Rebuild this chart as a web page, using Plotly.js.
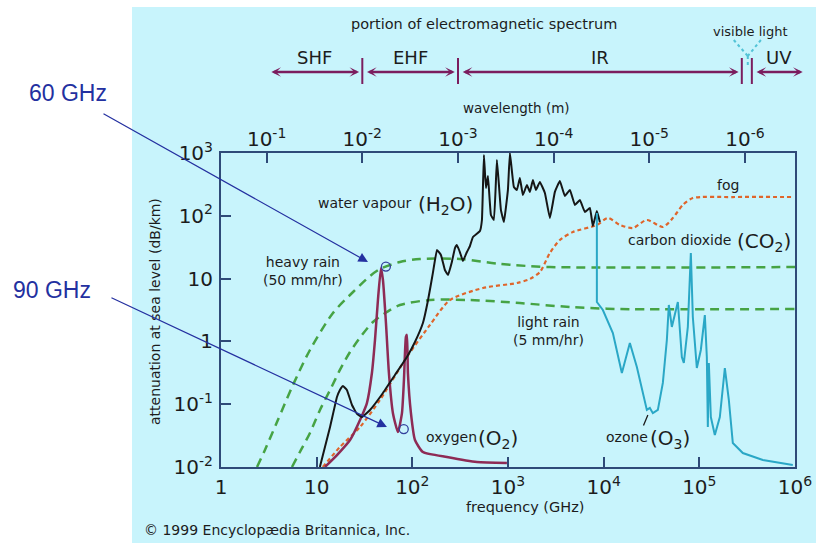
<!DOCTYPE html>
<html>
<head>
<meta charset="utf-8">
<script src="https://cdn.plot.ly/plotly-3.0.1.min.js"></script>
<style>
html,body{margin:0;padding:0;background:#ffffff;}
#chart{width:816px;height:543px;}
</style>
</head>
<body>
<div id="chart"></div>
<script>
// ---------------- data ----------------
// frequency in GHz, attenuation in dB/km
const waterFreq = [10.8,13.8,16.3,17.5,18.8,20.7,23.4,26.4,29.8,36.1,49.3,65.8,87.8,106.5,129,146,164,181,199,219,236,259,279,292,314,338,372,400,430,509,534,560,588,617,663,712,766,843,906,998,1047,1152,1239,1331,1431,1576,1694,1820,1956,2154,2430,2741,3092,3486,3932,4436,5002,5641,6364,7176,7712,8491,9126];
const waterAtt  = [0.010,0.0434,0.130,0.168,0.195,0.168,0.097,0.070,0.0625,0.081,0.151,0.292,0.565,0.978,1.96,4.56,12.3,28.5,23.8,13.7,11.4,18.4,30.7,34.3,26.5,19.1,26.5,33.0,45.9,57.3,85.8,929,277,431,103,85.8,774,124,79.6,258,1000,288,258,400,214,309,240,371,258,345,231,92.3,240,358,207,258,149,178,115,133,68.8,119,79.6];

const oxyFreq = [12.2,16.3,22.3,30.5,33.5,37.8,40.7,43.7,47.0,49.3,53.0,56.9,62.7,70.7,77.9,81.7,85.7,87.8,89.9,96.7,106.5,129,230,473,974];
const oxyAtt  = [0.010,0.0155,0.0269,0.072,0.104,0.314,1.05,4.56,14.8,9.50,1.96,0.314,0.072,0.0361,0.072,0.243,1.18,1.27,0.314,0.072,0.0269,0.0173,0.0144,0.0120,0.0116];

const fogFreq = [11.6,17.5,28.4,45.9,87.8,153,247,547,1239,1694,2154,2741,3486,4767,8491,11066,14766,20194,28275,41553,52850,67240,85517,223900,950000];
const fogAtt  = [0.010,0.0208,0.0434,0.117,0.565,1.83,4.56,7.08,8.51,9.86,12.7,25.6,41.2,55.2,71.4,92.3,71.4,64.0,85.8,66.4,92.3,149,192,199,199];

const heavyRainFreq = [2.38,2.88,3.85,5.65,8.51,14.8,24.0,36.1,45.9,74.2,120,314,823,2741,1000000];
const heavyRainAtt  = [0.010,0.0187,0.052,0.202,0.730,2.83,6.12,11.0,14.2,18.4,20.5,20.5,17.1,15.3,15.3];

const lightRainFreq = [5.52,6.86,8.51,10.83,13.8,17.5,22.3,29.8,38.8,54.3,74.2,153,400,1331,4436,14766,1000000];
const lightRainAtt  = [0.010,0.0187,0.0348,0.081,0.168,0.351,0.678,1.27,2.04,2.94,3.80,4.56,4.56,4.08,3.53,3.28,3.28];

const ozoneCo2Freq = [8491,8491,9809,12479,15496,18785,22233,25679,28275,30392,32673,36845,41553,45749,48003,51592,59619,65634,68869,75838,81519,85517,94170,103680,114160,119780,122700,125700,131900,145200,163800,184800,203400,223900,284800,460900,948400];
const ozoneCo2Att  = [111,4.24,3.16,1.36,0.314,0.944,0.391,0.151,0.081,0.087,0.072,0.081,0.218,1.05,3.80,1.70,4.24,0.565,0.453,1.70,25.6,2.45,0.377,0.730,2.63,0.565,0.0434,0.453,0.0625,0.0324,0.0625,0.377,0.117,0.0241,0.0167,0.0129,0.0108];

// axis ticks
const freqTickVals  = [1,10,100,1e3,1e4,1e5,1e6];
const freqTickText  = ['1','10','10<sup>2</sup>','10<sup>3</sup>','10<sup>4</sup>','10<sup>5</sup>','10<sup>6</sup>'];
const attTickVals   = [0.01,0.1,1,10,100,1000];
const attTickText   = ['10<sup>-2</sup>','10<sup>-1</sup>','1','10','10<sup>2</sup>','10<sup>3</sup>'];
const wavelengthTicks = [1e-1,1e-2,1e-3,1e-4,1e-5,1e-6];          // metres
const wavelengthText  = ['10<sup>-1</sup>','10<sup>-2</sup>','10<sup>-3</sup>','10<sup>-4</sup>','10<sup>-5</sup>','10<sup>-6</sup>'];

// spectrum bands (GHz)
const bandNames = ['SHF','EHF','IR','UV'];
const bandLow   = [3, 30, 300, 354000];
const bandHigh  = [30, 300, 278000, 1300000];
const bandEdges = [30, 300, 278000, 354000];
const visibleLightFreq = [229000, 321000, 440000];   // left arm, centre, right arm

// 60 / 90 GHz call-outs: points on the chart they point at
const callout60 = {f: 34.4, a: 18.4};
const callout90 = {f: 54.3, a: 0.0434};
const circleFreq = [47.5, 73.0];
const circleAtt  = [13.2, 0.0340];
const ozonePointer = {f: 28970, a: 0.0673};

// ---------------- layout helpers ----------------
const W = 816, H = 543;
const M = {l:221, r:21, t:153, b:76};
const PW = W - M.l - M.r, PH = H - M.t - M.b;
const px = v => (v - M.l) / PW;
const py = v => (H - M.b - v) / PH;
const lg = Math.log10;

const FAM = 'DejaVu Sans, Verdana, sans-serif';
const ink = '#1c1c1c';
const axisColor = '#2f4a78';
const f = (size, color) => ({family: FAM, size: size, color: color || ink});

function label(text, x, y, font, extra) {
  return Object.assign({xref:'paper', yref:'paper', x:px(x), y:py(y), text:text,
    showarrow:false, font:font, xanchor:'center', yanchor:'middle'}, extra || {});
}

const annotations = [
  label('portion of electromagnetic spectrum', 484, 24, f(14.5)),
  label('visible light', 750, 32, f(13)),
  label('wavelength (m)', 516, 108, f(13.5)),
  label('frequency (GHz)', 525, 507, f(14.5)),
  label('attenuation at sea level (dB/km)', 155, 312, f(14), {textangle:-90}),
  label('\u00a9 1999 Encyclop\u00e6dia Britannica, Inc.', 142, 530, f(14), {xanchor:'left'}),
  label('60 GHz', 68, 93, {family:'Liberation Sans, Arial, sans-serif', size:23, color:'#2330a0'}),
  label('90 GHz', 52, 290, {family:'Liberation Sans, Arial, sans-serif', size:23, color:'#2330a0'}),
  label('water vapour', 365, 203, f(14)),
  label('(H<sub>2</sub>O)', 445, 205, f(20)),
  label('heavy rain<br>(50 mm/hr)', 303, 271, f(14)),
  label('fog', 728, 185, f(14)),
  label('carbon dioxide', 679, 240, f(14)),
  label('(CO<sub>2</sub>)', 764, 242, f(20)),
  label('light rain<br>(5 mm/hr)', 548, 331, f(14)),
  label('oxygen', 451, 437, f(14)),
  label('(O<sub>2</sub>)', 498, 439, f(20)),
  label('ozone', 627, 437, f(14)),
  label('(O<sub>3</sub>)', 670, 439, f(20))
];

// band labels and double-headed arrows
const bandColor = '#7b1d5e';
bandNames.forEach((name, i) => {
  annotations.push({xref:'x', yref:'paper', x:lg(Math.sqrt(bandLow[i]*bandHigh[i])), y:py(57),
    text:name, showarrow:false, font:f(18), xanchor:'center', yanchor:'middle'});
  annotations.push({xref:'x', yref:'paper', x:lg(bandHigh[i]/1.08), y:py(72),
    axref:'x', ax:lg(bandLow[i]*1.08), ayref:'pixel', ay:0, text:'',
    showarrow:true, arrowside:'end+start', arrowhead:3, startarrowhead:3,
    arrowsize:0.7, startarrowsize:0.7, arrowwidth:2.3, arrowcolor:bandColor});
});

// blue call-out arrows
annotations.push({xref:'x', yref:'y', x:lg(callout60.f), y:lg(callout60.a), ax:-266, ay:-149,
  axref:'pixel', ayref:'pixel', text:'', showarrow:true, arrowhead:2, arrowsize:1.6,
  arrowwidth:1.2, arrowcolor:'#2430a0'});
annotations.push({xref:'x', yref:'y', x:lg(callout90.f), y:lg(callout90.a), ax:-277, ay:-130,
  axref:'pixel', ayref:'pixel', text:'', showarrow:true, arrowhead:2, arrowsize:1.6,
  arrowwidth:1.2, arrowcolor:'#2430a0'});
// ozone label pointer
annotations.push({xref:'x', yref:'y', x:lg(ozonePointer.f), y:lg(ozonePointer.a), ax:-5, ay:12,
  axref:'pixel', ayref:'pixel', text:'', showarrow:true, arrowhead:0, arrowwidth:1.3, arrowcolor:ink});

const shapes = [
  {type:'rect', xref:'paper', yref:'paper', x0:px(132), x1:px(816), y0:py(543), y1:py(7),
   fillcolor:'#c8f4fc', line:{width:0}, layer:'below'}
];
bandEdges.forEach(e => shapes.push({type:'line', xref:'x', yref:'paper', x0:e, x1:e,
  y0:py(84), y1:py(58), line:{color:bandColor, width:2}}));
const visColor = '#52c3d6';
shapes.push({type:'line', xref:'x', yref:'paper', x0:visibleLightFreq[0], x1:visibleLightFreq[1], y0:py(40), y1:py(56), line:{color:visColor, width:2, dash:'dot'}});
shapes.push({type:'line', xref:'x', yref:'paper', x0:visibleLightFreq[2], x1:visibleLightFreq[1], y0:py(40), y1:py(56), line:{color:visColor, width:2, dash:'dot'}});
shapes.push({type:'line', xref:'x', yref:'paper', x0:visibleLightFreq[1], x1:visibleLightFreq[1], y0:py(56), y1:py(67), line:{color:visColor, width:2, dash:'dot'}});
circleFreq.forEach((cf, i) => shapes.push({type:'circle', xref:'x', yref:'y',
  xsizemode:'pixel', ysizemode:'pixel', xanchor:cf, yanchor:circleAtt[i],
  x0:-9, x1:9, y0:-9, y1:9, line:{color:'#34409c', width:1.3}}));

// ---------------- traces ----------------
const green = '#46a344';
const traces = [
  {x:heavyRainFreq, y:heavyRainAtt, name:'heavy rain (50 mm/hr)', mode:'lines',
   line:{color:green, width:2.5, dash:'9px,6px', shape:'spline', smoothing:0.8}},
  {x:lightRainFreq, y:lightRainAtt, name:'light rain (5 mm/hr)', mode:'lines',
   line:{color:green, width:2.5, dash:'9px,6px', shape:'spline', smoothing:0.8}},
  {x:fogFreq, y:fogAtt, name:'fog', mode:'lines',
   line:{color:'#df652b', width:2.2, dash:'4px,3px', shape:'spline', smoothing:0.7}},
  {x:oxyFreq, y:oxyAtt, name:'oxygen (O2)', mode:'lines',
   line:{color:'#8e2b55', width:2.5, shape:'spline', smoothing:0.5}},
  {x:waterFreq, y:waterAtt, name:'water vapour (H2O)', mode:'lines',
   line:{color:'#161616', width:2, shape:'spline', smoothing:0.3}},
  {x:ozoneCo2Freq, y:ozoneCo2Att, name:'ozone (O3) / carbon dioxide (CO2)', mode:'lines',
   line:{color:'#2aa7c6', width:2}},
  {x:wavelengthTicks.map(l => 0.299792458 / l), y:wavelengthTicks.map(() => null),
   xaxis:'x2', yaxis:'y', mode:'lines', hoverinfo:'skip', showlegend:false}
];

const common = {ticks:'inside', ticklen:10, tickwidth:2, tickcolor:axisColor,
  showgrid:false, zeroline:false, tickfont:f(20), fixedrange:true};

const layout = {
  width:W, height:H, margin:{l:M.l, r:M.r, t:M.t, b:M.b, pad:0},
  paper_bgcolor:'#ffffff', plot_bgcolor:'#fcf59c',
  showlegend:false, font:f(14),
  xaxis:Object.assign({type:'log', range:[0,6], tickmode:'array', tickvals:freqTickVals, ticktext:freqTickText,
    showline:true, linecolor:axisColor, linewidth:2, mirror:true, ticklabelstandoff:1}, common),
  xaxis2:Object.assign({type:'log', range:[0,6], overlaying:'x', side:'top', anchor:'y', tickmode:'array',
    tickvals:wavelengthTicks.map(l => 0.299792458 / l), ticktext:wavelengthText, showline:false,
    ticklabelstandoff:2}, common),
  yaxis:Object.assign({type:'log', range:[-2,3], tickmode:'array', tickvals:attTickVals, ticktext:attTickText,
    showline:true, linecolor:axisColor, linewidth:2, mirror:true, ticklabelstandoff:2}, common),
  annotations:annotations,
  shapes:shapes
};

Plotly.newPlot('chart', traces, layout, {displayModeBar:false, staticPlot:true});
</script>
</body>
</html>
